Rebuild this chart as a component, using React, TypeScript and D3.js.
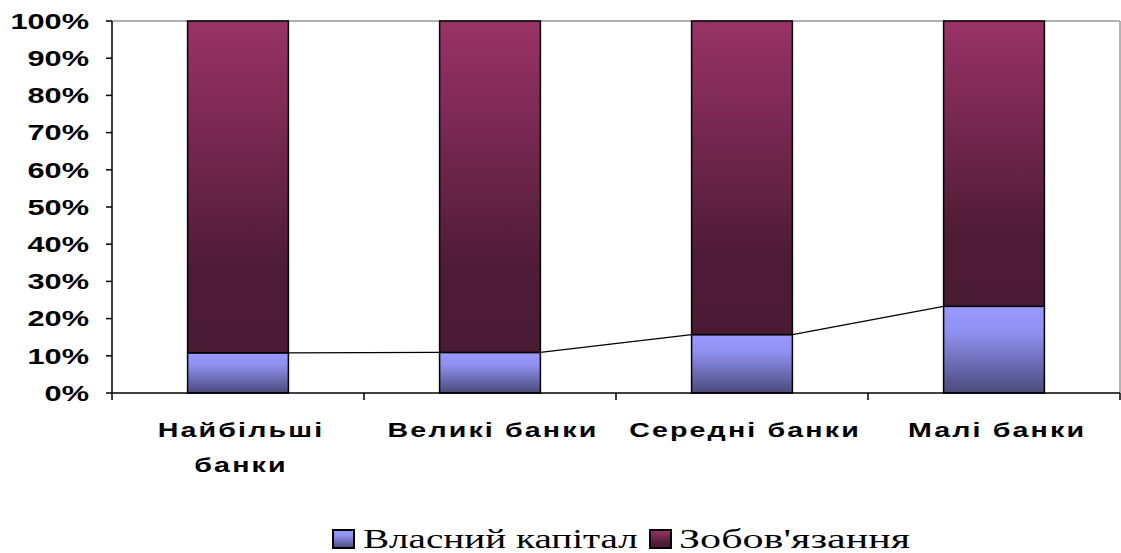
import React from "react";
import * as d3 from "d3";

// Bank groups and the share of each funding source (percent of total)
const categories: string[][] = [["Найбільші", "банки"], ["Великі банки"], ["Середні банки"], ["Малі банки"]];
const equityShare: number[] = [10.8, 10.9, 15.7, 23.3];
const liabilityShare: number[] = equityShare.map((v) => 100 - v);
const seriesNames: string[] = ["Власний капітал", "Зобов'язання"];
const yTicks: number[] = [0, 10, 20, 30, 40, 50, 60, 70, 80, 90, 100];

const W = 1121;
const H = 553;
const left = 112;
const right = 1120;
const top = 21;
const bottom = 393;
// all text is drawn horizontally widened
const stretch = 1.43;

export default function App() {
  const x = d3
    .scaleBand<number>()
    .domain(categories.map((_, i) => i))
    .range([left, right])
    .paddingInner(0.6)
    .paddingOuter(0.3);
  const y = d3.scaleLinear().domain([0, 100]).range([bottom, top]);
  const bw = x.bandwidth();
  const step = x.step();

  const stacked = d3.stack<number>().keys(["e", "l"]).value((i, k) => (k === "e" ? equityShare[i] : liabilityShare[i]))(
    categories.map((_, i) => i)
  );

  const fills = ["url(#gEquity)", "url(#gLiab)"];
  const catTicks = d3.range(categories.length + 1).map((i) => left + i * step);

  // legend entries: swatch x, text x, horizontal widening
  const legend = [
    { sx: 333, tx: 363, k: 1.45 },
    { sx: 650, tx: 679, k: 1.56 },
  ];

  return (
    <svg width={W} height={H} style={{ position: "absolute", left: 0, top: 0, background: "#fff" }}>
      <defs>
        <linearGradient id="gEquity" x1="0" y1="0" x2="0" y2="1">
          <stop offset="0" stopColor="#9999FF" />
          <stop offset="0.3" stopColor="#9090F0" />
          <stop offset="1" stopColor="#4A4A7C" />
        </linearGradient>
        <linearGradient id="gLiab" x1="0" y1="0" x2="0" y2="1">
          <stop offset="0" stopColor="#993366" />
          <stop offset="0.75" stopColor="#4E1B36" />
          <stop offset="1" stopColor="#4A1A33" />
        </linearGradient>
      </defs>

      {/* plot frame: grey top and right edges */}
      <line x1={left} x2={right} y1={top} y2={top} stroke="#9a9a9a" strokeWidth={1.5} />
      <line x1={right} x2={right} y1={top} y2={bottom} stroke="#9a9a9a" strokeWidth={1.5} />

      {/* stacked bars */}
      {stacked.map((layer, si) =>
        layer.map((d, i) => (
          <rect
            key={`${si}-${i}`}
            x={x(i)!}
            y={y(d[1])}
            width={bw}
            height={y(d[0]) - y(d[1])}
            fill={fills[si]}
            stroke="#000"
            strokeWidth={1.5}
          />
        ))
      )}

      {/* series lines joining the equity segment tops */}
      {equityShare.slice(0, -1).map((v, i) => (
        <line
          key={`sl${i}`}
          x1={x(i)! + bw}
          y1={y(v)}
          x2={x(i + 1)!}
          y2={y(equityShare[i + 1])}
          stroke="#000"
          strokeWidth={1.2}
        />
      ))}

      {/* value axis */}
      <line x1={left} x2={left} y1={top} y2={bottom} stroke="#000" strokeWidth={1.5} />
      {yTicks.map((t) => (
        <g key={`yt${t}`}>
          <line x1={left - 6} x2={left} y1={y(t)} y2={y(t)} stroke="#000" strokeWidth={1.5} />
          <text
            transform={`translate(89,${y(t) + 7.8}) scale(${stretch},1)`}
            textAnchor="end"
            fontFamily="'Liberation Sans', Arial, sans-serif"
            fontWeight="bold"
            fontSize={21.5}
            fill="#000"
          >
            {t}%
          </text>
        </g>
      ))}

      {/* category axis */}
      <line x1={left} x2={right} y1={bottom} y2={bottom} stroke="#000" strokeWidth={1.5} />
      {catTicks.map((tx, i) => (
        <line key={`xt${i}`} x1={tx} x2={tx} y1={bottom} y2={bottom + 7} stroke="#000" strokeWidth={1.5} />
      ))}
      {categories.map((lines, i) =>
        lines.map((ln, li) => (
          <text
            key={`cl${i}-${li}`}
            transform={`translate(${x(i)! + bw / 2 + 3},${437 + li * 35}) scale(${stretch},1)`}
            textAnchor="middle"
            fontFamily="'Liberation Sans', Arial, sans-serif"
            fontWeight="bold"
            fontSize={20}
            letterSpacing={1.5}
            fill="#000"
          >
            {ln}
          </text>
        ))
      )}

      {/* legend */}
      <g fontFamily="'Liberation Serif', 'Times New Roman', serif" fontSize={27} fill="#000">
        {legend.map((l, i) => (
          <g key={`lg${i}`}>
            <rect x={l.sx} y={530} width={21} height={18} fill={fills[i]} stroke="#000" strokeWidth={2} />
            <text transform={`translate(${l.tx},548) scale(${l.k},1)`}>{seriesNames[i]}</text>
          </g>
        ))}
      </g>
    </svg>
  );
}
